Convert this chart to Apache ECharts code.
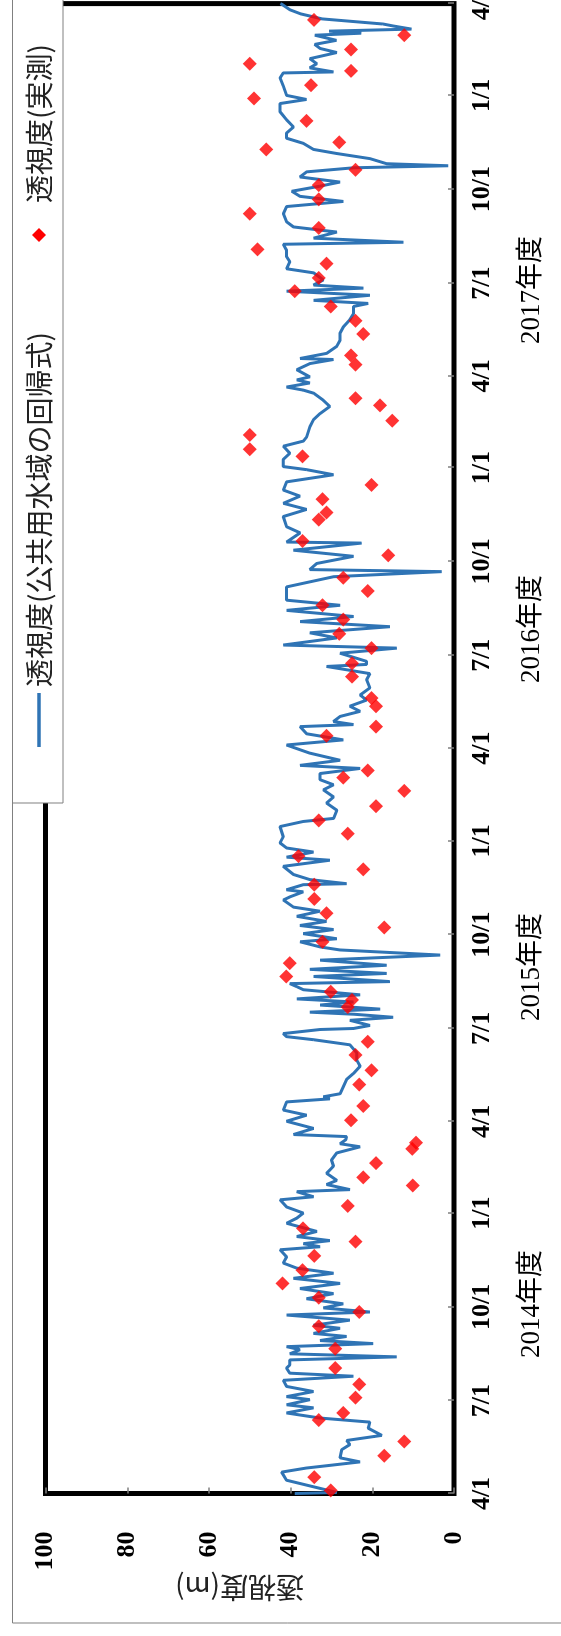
<!DOCTYPE html>
<html><head><meta charset="utf-8">
<script src="https://cdn.jsdelivr.net/npm/echarts@6/dist/echarts.min.js"></script>
<style>
html,body{margin:0;padding:0;width:561px;height:1636px;overflow:hidden;background:#fff}
#chart{position:absolute;left:0;top:0;width:1636px;height:561px;transform-origin:0 0;transform:translateY(1636px) rotate(-90deg);}
</style></head><body><div id="chart"></div>
<script>
const START_DATE = '2014-04-01';
const END_DATE = '2018-04-01';
const TICK_DATES = ['2014-04-01','2014-07-01','2014-10-01','2015-01-01','2015-04-01','2015-07-01','2015-10-01','2016-01-01',
  '2016-04-01','2016-07-01','2016-10-01','2017-01-01','2017-04-01','2017-07-01','2017-10-01','2018-01-01','2018-04-01'];
const YEAR_LABELS = ['2014年度','2015年度','2016年度','2017年度'];
const SERIES_NAMES = ['透視度(公共用水域の回帰式)','透視度(実測)'];
const Y_NAME = '透視度(m)';
const Y_MIN = 0, Y_MAX = 100, Y_STEP = 20;

// regression line: days elapsed since START_DATE, and value (m)
const LINE_DAY = [0,1,5,13,21,25,28,31,35,43,48,52,57,64,70,74,79,84,87,92,95,100,105,111,115,118,123,126,131,134,137,141,144,147,150,154,157,162,165,170,175,178,182,186,191,196,201,206,211,216,221,226,232,239,242,245,
248,252,257,265,270,275,281,288,291,296,298,303,307,314,321,327,334,340,343,347,350,352,358,365,371,376,384,387,389,392,399,406,412,419,425,432,440,445,448,451,455,456,459,464,467,470,472,475,479,482,485,489,494,497,500,502,507,510,514,518,523,528,533,536,541,544,549,553,557,561,566,571,575,582,585,590,592,597,598,602,607,615,621,624,629,633,638,644,654,659,662,670,677,683,690,695,700,706,
711,714,719,726,734,739,745,752,754,757,762,767,772,778,783,790,798,804,811,813,816,824,829,832,839,844,850,855,860,866,871,876,883,889,899,904,906,912,919,925,932,933,942,948,958,965,971,978,984,992,999,1004,1007,1014,1020,1027,1032,1036,1046,1053,1059,1066,1072,1079,1082,1085,1089,1092,1095,1102,1108,1112,1113,1118,1125,1131,1138,1144,1151,1157,1164,1167,1170,1175,1179,1182,1185,1190,
1197,1201,1208,1213,1219,1225,1227,1231,1237,1242,1247,1255,1262,1267,1272,1277,1282,1286,1291,1296,1300,1302,1304,1309,1314,1318,1324,1329,1334,1340,1347,1355,1363,1367,1371,1380,1388,1393,1394,1398,1402,1407,1413,1417,1421,1425,1430,1432,1434,1436,1439,1441,1446,1451,1455,1460,1461];
const LINE_VAL = [39.0,28.7,32.8,41.0,42.2,36.1,29.5,23.0,27.9,27.5,25.5,26.3,17.7,21.0,20.6,32.8,41.0,34.4,41.0,35.3,41.0,34.4,41.0,41.8,24.6,40.2,41.0,40.2,40.2,14.0,40.2,37.7,41.0,19.8,32.8,26.3,34.4,27.9,34.4,25.5,41.0,20.6,32.0,27.1,36.1,29.5,37.7,27.9,39.3,29.5,38.5,41.8,41.0,42.6,32.8,36.9,
30.4,38.5,33.6,41.0,38.5,36.9,41.0,42.6,34.4,38.5,25.5,31.2,28.7,31.2,29.5,30.0,28.7,23.0,27.9,26.5,26.3,39.3,34.4,41.0,36.1,41.8,41.0,30.4,32.0,27.9,27.1,26.3,24.6,23.0,23.8,23.8,25.5,34.4,41.0,41.8,32.8,24.6,20.6,25.5,14.9,24.6,35.3,18.1,32.8,24.6,38.5,23.0,36.9,38.5,40.2,15.7,34.4,16.5,35.3,16.5,32.8,3.4,27.9,32.8,37.7,28.7,36.9,29.5,37.7,31.2,38.5,32.8,39.3,41.8,40.2,36.9,41.0,36.9,26.3,35.3,39.3,41.8,30.4,41.0,34.4,41.0,42.6,41.8,42.6,36.9,29.5,28.7,31.2,29.5,32.0,29.5,32.8,32.8,
23.0,37.7,27.9,35.3,41.0,27.1,36.1,37.7,24.6,29.5,27.9,23.0,25.5,21.4,23.0,20.6,21.4,20.6,31.2,21.4,21.4,27.9,14.0,41.8,28.7,35.3,15.7,37.7,24.6,41.0,27.9,41.0,41.0,41.0,29.5,3.0,35.3,33.6,24.6,39.3,22.6,41.0,37.7,41.0,41.8,36.1,41.8,37.7,41.8,41.0,29.5,36.1,41.8,41.8,40.2,41.8,36.9,36.1,35.3,34.4,32.8,30.4,32.0,34.4,36.9,41.0,35.3,38.5,35.3,38.5,35.3,29.5,37.7,31.2,28.7,27.9,27.9,27.1,25.5,24.6,24.6,21.0,34.4,20.6,41.0,22.2,34.4,32.0,
34.4,41.0,40.2,41.0,41.0,41.8,12.4,34.4,28.7,39.3,41.0,41.8,41.0,27.1,37.7,39.7,32.8,27.9,37.7,36.1,24.6,1.4,16.5,20.6,28.7,34.4,36.9,41.0,41.0,39.3,41.0,42.6,42.6,36.1,41.0,41.8,42.6,41.8,29.5,35.3,33.6,35.3,28.7,32.8,34.1,28.8,34.1,22.7,30.6,10.4,14.8,17.4,32.3,37.6,40.2,42.0,42.5];

// measured transparency (m)
const MEAS_DATE = ['2014-04-04','2014-04-17','2014-05-08','2014-05-22','2014-06-12','2014-06-19','2014-07-04','2014-07-17','2014-08-02','2014-08-21','2014-09-12','2014-09-26','2014-10-10','2014-10-24','2014-11-06','2014-11-20','2014-12-04','2014-12-17',
'2015-01-08','2015-01-28','2015-02-05','2015-02-19','2015-03-05','2015-03-11','2015-04-02','2015-04-16','2015-05-07','2015-05-21','2015-06-05','2015-06-18','2015-07-22','2015-07-29','2015-08-06','2015-08-21','2015-09-03','2015-09-24','2015-10-08','2015-10-22','2015-11-05','2015-11-19','2015-12-04','2015-12-17',
'2016-01-08','2016-01-21','2016-02-04','2016-02-19','2016-03-03','2016-03-10','2016-04-13','2016-04-22','2016-05-12','2016-05-20','2016-06-10','2016-06-23','2016-07-08','2016-07-22','2016-08-05','2016-08-19','2016-09-02','2016-09-15','2016-10-07','2016-10-21','2016-11-11','2016-11-18','2016-12-01','2016-12-15',
'2017-01-12','2017-01-19','2017-02-02','2017-02-16','2017-03-03','2017-03-10','2017-04-12','2017-04-21','2017-05-12','2017-05-25','2017-06-08','2017-06-23','2017-07-06','2017-07-20','2017-08-03','2017-08-24','2017-09-07','2017-09-21','2017-10-05','2017-10-20','2017-11-09','2017-11-16','2017-12-07','2017-12-29',
'2018-01-11','2018-01-25','2018-02-01','2018-02-15','2018-03-01','2018-03-16'];
const MEAS_VAL = [30.2,34.2,17.1,12.2,33.1,27.1,24.1,23.2,29.1,29.1,33.1,23.2,33.1,42.0,37.1,34.2,24.1,37.0,
26.0,10.1,22.2,19.1,10.2,9.3,25.2,22.2,23.2,20.2,24.1,21.1,26.0,25.0,30.2,41.1,40.2,32.2,17.1,31.2,34.2,34.2,22.2,38.1,
26.0,33.1,19.1,12.2,27.1,21.1,31.2,19.1,19.1,20.2,25.0,25.0,20.2,28.1,27.1,32.2,21.1,27.1,16.1,37.1,33.1,31.2,32.2,20.2,
37.1,50.0,50.0,15.1,18.1,24.1,24.1,25.2,22.2,24.1,30.2,39.0,33.1,31.2,48.1,33.1,50.0,33.1,33.1,24.1,46.0,28.1,36.1,49.0,
35.0,25.2,50.0,25.2,12.2,34.3];

const DAY = 86400000;
const ts = s => Date.parse(s + 'T00:00:00Z');
const t0 = ts(START_DATE), t1 = ts(END_DATE);
const TICK_TS = TICK_DATES.map(ts);
const lineData = LINE_DAY.map((d, i) => [t0 + d * DAY, LINE_VAL[i]]);
const measData = MEAS_DATE.map((d, i) => [ts(d), MEAS_VAL[i]]);

const SERIF = "'Liberation Serif','Times New Roman','Noto Sans CJK JP',serif";
const GOTH = "'Noto Sans CJK JP',sans-serif";
const BLUE = '#2f74b5';
const RED = '#ff0000';

const chart = echarts.init(document.getElementById('chart'), null, {renderer: 'canvas'});
const yearX = [332, 669, 1007, 1346];

chart.setOption({
  animation: false,
  backgroundColor: '#fff',
  grid: {left: 142.5, right: 3.6, top: 45.6, bottom: 107, show: true, borderColor: '#000', borderWidth: 5,
         containLabel: false, outerBoundsMode: 'none'},
  xAxis: {
    type: 'value', min: t0, max: t1,
    axisLine: {show: false}, splitLine: {show: false},
    axisTick: {show: true, inside: true, length: 6, lineStyle: {color: '#808080', width: 1.5}, customValues: TICK_TS},
    axisLabel: {customValues: TICK_TS, margin: 15, color: '#000', fontFamily: SERIF, fontWeight: 'bold', fontSize: 26,
      formatter: v => { const d = new Date(v); return (d.getUTCMonth() + 1) + '/' + d.getUTCDate(); }}
  },
  yAxis: {
    type: 'value', min: Y_MIN, max: Y_MAX, interval: Y_STEP,
    axisLine: {show: false}, splitLine: {show: false},
    axisTick: {show: true, inside: true, length: 6, lineStyle: {color: '#808080', width: 1.5}},
    axisLabel: {margin: 38, color: '#000', fontFamily: SERIF, fontWeight: 'bold', fontSize: 26}
  },
  series: [
    {name: SERIES_NAMES[0], type: 'line', data: lineData, symbol: 'none', showSymbol: false,
     lineStyle: {color: BLUE, width: 3}, z: 2},
    {name: SERIES_NAMES[1], type: 'scatter', data: measData, symbol: 'diamond', symbolSize: 14,
     itemStyle: {color: RED}, z: 3}
  ],
  graphic: [
    {type: 'rect', silent: true, z: 0, shape: {x: 13, y: 12.5, width: 1640, height: 560},
     style: {fill: 'none', stroke: '#808080', lineWidth: 1}},
    {type: 'rect', silent: true, z: 100, shape: {x: 833, y: 12.5, width: 820, height: 50.5},
     style: {fill: '#fff', stroke: '#808080', lineWidth: 1}},
    {type: 'line', silent: true, z: 101, shape: {x1: 889, y1: 39, x2: 943, y2: 39},
     style: {stroke: BLUE, lineWidth: 3.5}},
    {type: 'text', silent: true, z: 101, x: 949, y: 39,
     style: {text: SERIES_NAMES[0], fontFamily: GOTH, fontSize: 28, fill: '#222', align: 'left', verticalAlign: 'middle'}},
    {type: 'polygon', silent: true, z: 101, shape: {points: [[1401, 32], [1408, 39], [1401, 46], [1394, 39]]},
     style: {fill: RED}},
    {type: 'text', silent: true, z: 101, x: 1433, y: 39,
     style: {text: SERIES_NAMES[1], fontFamily: GOTH, fontSize: 28, fill: '#222', align: 'left', verticalAlign: 'middle'}},
    {type: 'text', silent: true, z: 101, x: 48.5, y: 239.5, rotation: Math.PI / 2,
     style: {text: Y_NAME, fontFamily: GOTH, fontSize: 28, fill: '#222', align: 'center', verticalAlign: 'middle'}}
  ].concat(YEAR_LABELS.map((t, i) => ({
    type: 'text', silent: true, z: 101, x: yearX[i], y: 532,
    style: {text: t, fontFamily: SERIF, fontSize: 27, fill: '#000', align: 'center', verticalAlign: 'middle'}
  })))
});
</script></body></html>
